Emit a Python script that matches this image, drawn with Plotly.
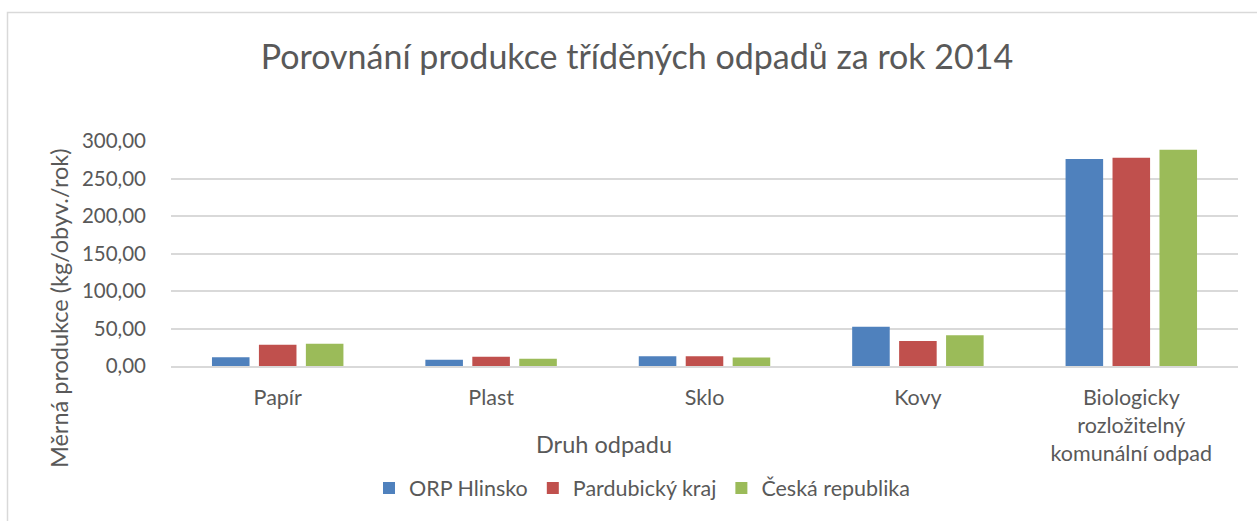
import plotly.graph_objects as go

categories = ["Papír", "Plast", "Sklo", "Kovy", "Biologicky<br>rozložitelný<br>komunální odpad"]
series_names = ["ORP Hlinsko", "Pardubický kraj", "Česká republika"]
orp_hlinsko = [11.6, 8.4, 12.9, 52.5, 276.0]
pardubicky_kraj = [28.5, 12.3, 13.1, 33.4, 277.8]
ceska_republika = [29.8, 9.6, 11.2, 40.9, 288.5]
colors = ["#4F81BD", "#C0504D", "#9BBB59"]
y_ticks = [0, 50, 100, 150, 200, 250, 300]

W, H = 1257, 521
L, R, T, B = 171, 19, 141, 155
pw, ph = W - L - R, H - T - B

def px_x(x):
    return (x - L) / pw

def px_y(y):
    return (H - B - y) / ph

FONT = "Lato"
GREY = "#595959"

fig = go.Figure()
for name, vals, c in zip(series_names, [orp_hlinsko, pardubicky_kraj, ceska_republika], colors):
    fig.add_trace(go.Bar(x=categories, y=vals, name=name, marker=dict(color=c, line=dict(width=0))))

fig.update_layout(
    width=W, height=H,
    margin=dict(l=L, r=R, t=T, b=B, autoexpand=False),
    paper_bgcolor="white", plot_bgcolor="white",
    separators=", ",
    barmode="group", bargap=0.34, bargroupgap=0.2,
    font=dict(family=FONT, color=GREY, size=20),
    title=dict(text="Porovnání produkce tříděných odpadů za rok 2014",
               x=637 / W, xanchor="center", xref="container",
               y=1 - 57 / H, yanchor="middle", yref="container",
               font=dict(family=FONT, size=34, color=GREY)),
    showlegend=True,
    legend=dict(orientation="h", x=px_x(642), xanchor="center", y=px_y(488), yanchor="middle",
                font=dict(family=FONT, size=21.5, color=GREY), itemwidth=30, bgcolor="rgba(0,0,0,0)"),
    xaxis=dict(showgrid=False, showline=True, linecolor="#d9d9d9", linewidth=2,
               ticks="", tickfont=dict(size=21.5, color=GREY), ticklabelstandoff=11),
    yaxis=dict(range=[0, 300], tickvals=y_ticks, tickformat=".2f",
               showgrid=True, gridcolor="#d9d9d9", gridwidth=1.5, zeroline=False,
               showline=False, ticks="", tickfont=dict(size=20.5, color=GREY), ticklabelstandoff=24),
)

fig.add_annotation(text="Měrná produkce (kg/obyv./rok)", textangle=-90,
                   xref="paper", yref="paper", x=px_x(59), y=px_y(308),
                   xanchor="center", yanchor="middle", showarrow=False,
                   font=dict(family=FONT, size=23.5, color=GREY))
fig.add_annotation(text="Druh odpadu", xref="paper", yref="paper", x=px_x(604), y=px_y(444),
                   xanchor="center", yanchor="middle", showarrow=False,
                   font=dict(family=FONT, size=23.5, color=GREY))

fig.add_shape(type="rect", xref="paper", yref="paper",
              x0=px_x(7.5), x1=px_x(1400), y0=px_y(700), y1=px_y(12.5),
              line=dict(color="#d9d9d9", width=1.5), fillcolor="rgba(0,0,0,0)", layer="below")

fig.write_html("out.html", config={"displayModeBar": False},
               post_script="document.body.style.margin='0';")
